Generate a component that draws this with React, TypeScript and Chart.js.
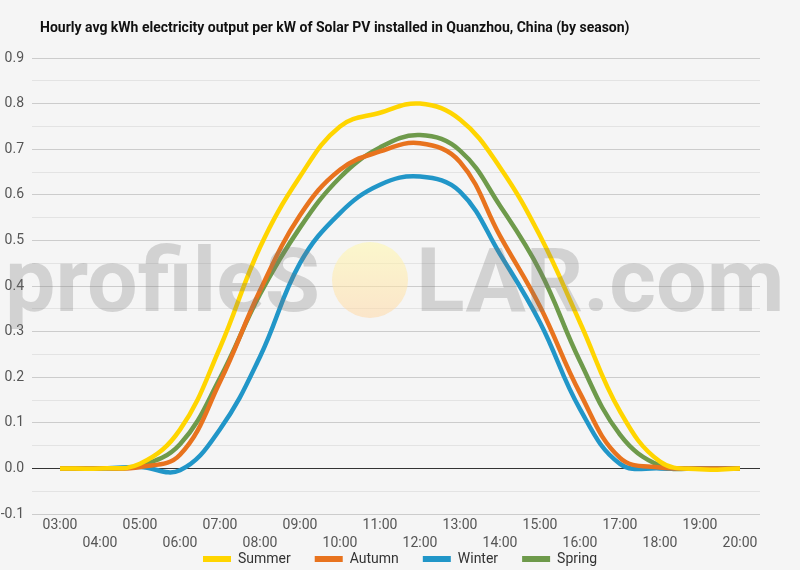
import React, { useEffect, useRef } from 'react';
import { Chart, registerables } from 'chart.js';

Chart.register(...registerables);

const hours = ['03:00', '04:00', '05:00', '06:00', '07:00', '08:00', '09:00', '10:00', '11:00',
    '12:00', '13:00', '14:00', '15:00', '16:00', '17:00', '18:00', '19:00', '20:00'];

const summer = [0, 0, 0.01, 0.085, 0.265, 0.485, 0.64, 0.75, 0.78, 0.8, 0.765, 0.66, 0.51, 0.32, 0.125, 0.015, -0.002, 0];
const autumn = [0, 0, 0.003, 0.03, 0.19, 0.39, 0.555, 0.655, 0.695, 0.713, 0.672, 0.51, 0.355, 0.165, 0.023, 0.002, 0, 0];
const winter = [0, 0, 0.003, -0.004, 0.086, 0.245, 0.45, 0.56, 0.622, 0.64, 0.607, 0.47, 0.32, 0.13, 0.01, 0, 0, 0];
const spring = [0, 0, 0.006, 0.053, 0.198, 0.382, 0.528, 0.638, 0.704, 0.731, 0.697, 0.576, 0.433, 0.235, 0.074, 0.006, 0, 0];

const seasonNames = ['Summer', 'Autumn', 'Winter', 'Spring'];
const seasonValues = [summer, autumn, winter, spring];
const seasonColors = ['#ffd500', '#e8731e', '#2196c8', '#6e9a4b'];

const yMin = -0.1;
const yMax = 0.9;

const title = 'Hourly avg kWh electricity output per kW of Solar PV installed in Quanzhou, China (by season)';
const font = "Roboto, 'Noto Sans', sans-serif";

// profileSOLAR watermark laid over the plot
const watermark = {
    id: 'watermark',
    afterDatasetsDraw(chart: Chart) {
        const ctx = chart.ctx;
        ctx.save();
        ctx.font = `bold 100px ${font}`;
        const size = 100 * 315 / ctx.measureText('profileS').width;
        ctx.font = `bold ${size}px ${font}`;
        ctx.fillStyle = 'rgba(120,120,120,0.27)';
        ctx.textBaseline = 'alphabetic';
        ctx.fillText('profileS', 5, 311);
        const w2 = ctx.measureText('LAR.com').width;
        ctx.fillText('LAR.com', Math.min(416, 792 - w2), 311);
        const g = ctx.createLinearGradient(0, 242, 0, 318);
        g.addColorStop(0, 'rgba(255,248,170,0.55)');
        g.addColorStop(1, 'rgba(255,215,165,0.55)');
        ctx.beginPath();
        ctx.arc(370, 280, 38, 0, Math.PI * 2);
        ctx.fillStyle = g;
        ctx.fill();
        ctx.restore();
    },
};

// pull the legend row up under the two rows of hour labels and centre it on the page
const legendNudge = {
    id: 'legendNudge',
    afterLayout(chart: Chart) {
        const lg = chart.legend;
        if (!lg) return;
        lg.top -= 24;
        lg.bottom -= 24;
        lg.left += 20;
        lg.right += 20;
    },
};

const isMajor = (v: number) => Math.round(v * 100) % 10 === 0;

const SeasonChart: React.FC = () => {
    const chartRef = useRef<HTMLCanvasElement>(null);
    const chartInstance = useRef<Chart | null>(null);

    useEffect(() => {
        if (!chartRef.current) return;
        const ctx = chartRef.current.getContext('2d');
        if (!ctx) return;

        if (chartInstance.current) {
            chartInstance.current.destroy();
        }

        chartInstance.current = new Chart(ctx, {
            type: 'line',
            data: {
                labels: hours,
                datasets: seasonNames.map((name, i) => ({
                    label: name,
                    data: seasonValues[i],
                    borderColor: seasonColors[i],
                    backgroundColor: seasonColors[i],
                    borderWidth: 4.5,
                    pointRadius: 0,
                    tension: 0.4,
                    fill: false,
                })),
            },
            options: {
                responsive: false,
                animation: false,
                layout: { padding: { top: 58, right: 40, left: 0, bottom: -30 } },
                scales: {
                    x: {
                        offset: true,
                        afterFit: (s) => { s.height = 38; },
                        grid: { display: false, drawTicks: false, tickLength: 0 },
                        border: { display: false },
                        ticks: {
                            autoSkip: false,
                            maxRotation: 0,
                            padding: 2,
                            color: '#555',
                            font: { family: font, size: 14, lineHeight: 1.3 },
                            callback: (_v, i) => (i % 2 === 0 ? [hours[i], ''] : ['', hours[i]]),
                        },
                    },
                    y: {
                        min: yMin,
                        max: yMax,
                        afterFit: (s) => { s.width = 40; },
                        border: { display: false },
                        grid: {
                            color: (c) => {
                                const v = c.tick.value;
                                if (Math.abs(v) < 1e-9) return '#333333';
                                return isMajor(v) ? '#cccccc' : '#e3e3e3';
                            },
                            lineWidth: 1,
                        },
                        ticks: {
                            stepSize: 0.05,
                            padding: 8,
                            color: '#555',
                            font: { family: font, size: 14 },
                            callback: (v) => (isMajor(Number(v)) ? Number(v).toFixed(1) : ''),
                        },
                    },
                },
                plugins: {
                    legend: {
                        position: 'bottom',
                        labels: {
                            boxWidth: 28,
                            boxHeight: 6,
                            padding: 24,
                            color: '#333',
                            font: { family: font, size: 14 },
                            generateLabels: (chart) =>
                                Chart.defaults.plugins.legend.labels.generateLabels(chart).map((l) => ({
                                    ...l,
                                    lineWidth: 0,
                                })),
                        },
                    },
                    title: { display: false },
                    tooltip: { enabled: false },
                },
            },
            plugins: [watermark, legendNudge],
        });

        return () => {
            if (chartInstance.current) {
                chartInstance.current.destroy();
                chartInstance.current = null;
            }
        };
    }, []);

    return (
        <div style={{ position: 'relative', width: 800, height: 570, background: '#f5f5f5' }}>
            <div style={{
                position: 'absolute', left: 40, top: 19, fontFamily: font, fontWeight: 'bold',
                fontSize: 14, color: '#111',
            }}>{title}</div>
            <canvas ref={chartRef} width={800} height={570}></canvas>
        </div>
    );
};

export default function App() {
    useEffect(() => {
        document.body.style.margin = '0';
        document.body.style.background = '#f5f5f5';
    }, []);
    return <SeasonChart />;
}
